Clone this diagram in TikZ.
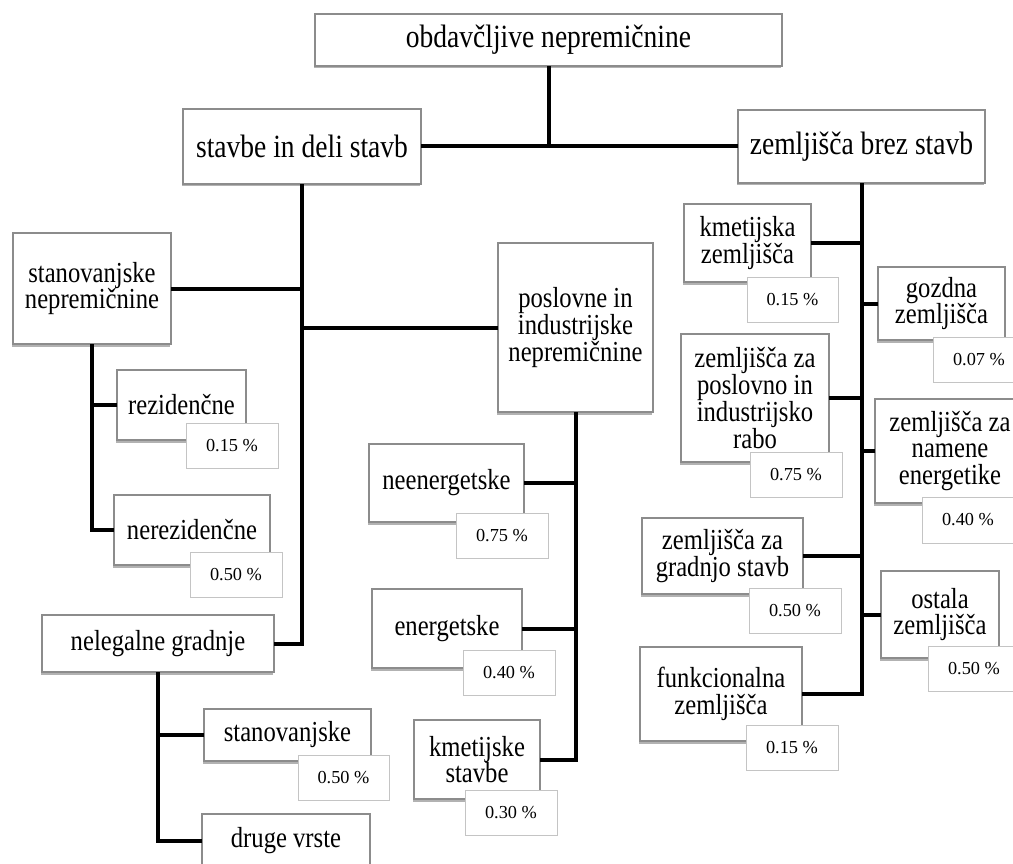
\documentclass[tikz,border=0pt]{standalone}
\usepackage{fontspec}
\setmainfont{Liberation Serif}
\newfontfamily\boxfont[FakeStretch=0.85]{Liberation Serif}
\usetikzlibrary{shadows}
\definecolor{boxline}{HTML}{8C8C8C}
\definecolor{pctline}{HTML}{C4C4C4}
\newcommand{\mkbox}[7]{\node[#6, minimum width={(#4-#2)*1pt}, minimum height={(#5-#3)*1pt}] (#1) at ({(#2+#4)/2},{(#3+#5)/2}) {#7};}
\begin{document}
\begin{tikzpicture}[x=1pt,y=-1pt,
  base/.style={draw, fill=white, inner sep=0pt, outer sep=0pt, align=center},
  big/.style={base, draw=boxline, line width=1.1pt, font=\boxfont\fontsize{32.4}{30}\selectfont,
    drop shadow={shadow xshift=-1.5pt, shadow yshift=-2.5pt, fill=black, opacity=0.3}},
  mid/.style={base, draw=boxline, line width=1.1pt, font=\boxfont\fontsize{29}{26.8}\selectfont,
    drop shadow={shadow xshift=-1.5pt, shadow yshift=-2.5pt, fill=black, opacity=0.3}},
  pct/.style={base, draw=pctline, line width=0.8pt, font=\fontsize{18.3}{20}\selectfont},
  conn/.style={draw=black, line width=4pt}]
\useasboundingbox (0,0) rectangle (1013,864);
% main boxes
\mkbox{top}{315}{14}{782}{66}{big}{obdavčljive nepremičnine}
\mkbox{stavbe}{183}{109}{421}{184}{big}{stavbe in deli stavb}
\mkbox{zem}{738}{110}{985}{183}{big}{zemljišča brez stavb}
\mkbox{stanov}{13}{233}{171}{344}{mid}{stanovanjske\\nepremičnine}
\mkbox{posl}{498}{243}{653}{412}{mid}{poslovne in\\industrijske\\nepremičnine}
\mkbox{rez}{117}{370}{246}{440}{mid}{rezidenčne}
\mkbox{nerez}{114}{495}{270}{565}{mid}{nerezidenčne}
\mkbox{neleg}{42}{615}{274}{672}{mid}{nelegalne gradnje}
\mkbox{stan2}{204}{709}{371}{761}{mid}{stanovanjske}
\mkbox{druge}{202}{814}{370}{868}{mid}{druge vrste}
\mkbox{neen}{369}{444}{524}{522}{mid}{neenergetske}
\mkbox{energ}{372}{589}{522}{668}{mid}{energetske}
\mkbox{kmst}{414}{720}{540}{799}{mid}{kmetijske\\stavbe}
\mkbox{kmz}{684}{204}{811}{282}{mid}{kmetijska\\zemljišča}
\mkbox{gozd}{878}{267}{1005}{340}{mid}{gozdna\\zemljišča}
\mkbox{zposl}{681}{334}{829}{462}{mid}{zemljišča za\\poslovno in\\industrijsko\\rabo}
\mkbox{namene}{875}{399}{1025}{503}{mid}{zemljišča za\\namene\\energetike}
\mkbox{gradnjo}{642}{518}{803}{594}{mid}{zemljišča za\\gradnjo stavb}
\mkbox{ostala}{881}{571}{999}{658}{mid}{ostala\\zemljišča}
\mkbox{funk}{640}{647}{802}{741}{mid}{funkcionalna\\zemljišča}
% connectors
\path[conn] (top.south) -- (top.south |- stavbe.east);
\path[conn] (stavbe.east) -- (zem.west);
\path[conn] (stavbe.south) |- (neleg.east);
\path[conn] (stanov.east) -- (stanov.east -| stavbe.south);
\path[conn] (posl.west) -- (posl.west -| stavbe.south);
\path[conn] (stanov.south) |- (nerez.west);
\path[conn] (rez.west) -- (rez.west -| stanov.south);
\path[conn] (neleg.south) |- (druge.west);
\path[conn] (stan2.west) -- (stan2.west -| neleg.south);
\path[conn] (posl.south) |- (kmst.east);
\path[conn] (neen.east) -- (neen.east -| posl.south);
\path[conn] (energ.east) -- (energ.east -| posl.south);
\path[conn] (zem.south) |- (funk.east);
\path[conn] (kmz.east) -- (kmz.east -| zem.south);
\path[conn] (gozd.west) -- (gozd.west -| zem.south);
\path[conn] (zposl.east) -- (zposl.east -| zem.south);
\path[conn] (namene.west) -- (namene.west -| zem.south);
\path[conn] (gradnjo.east) -- (gradnjo.east -| zem.south);
\path[conn] (ostala.west) -- (ostala.west -| zem.south);
% percentage boxes
\mkbox{p1}{186}{423}{278}{468}{pct}{0.15 \%}
\mkbox{p2}{190}{552}{282}{597}{pct}{0.50 \%}
\mkbox{p3}{298}{755}{389}{800}{pct}{0.50 \%}
\mkbox{p4}{456}{513}{548}{558}{pct}{0.75 \%}
\mkbox{p5}{463}{650}{555}{695}{pct}{0.40 \%}
\mkbox{p6}{465}{790}{557}{835}{pct}{0.30 \%}
\mkbox{p7}{747}{277}{838}{322}{pct}{0.15 \%}
\mkbox{p8}{933}{337}{1025}{382}{pct}{0.07 \%}
\mkbox{p9}{750}{452}{842}{497}{pct}{0.75 \%}
\mkbox{p10}{922}{497}{1014}{543}{pct}{0.40 \%}
\mkbox{p11}{749}{588}{841}{633}{pct}{0.50 \%}
\mkbox{p12}{928}{646}{1020}{691}{pct}{0.50 \%}
\mkbox{p13}{746}{725}{838}{770}{pct}{0.15 \%}
\end{tikzpicture}
\end{document}
